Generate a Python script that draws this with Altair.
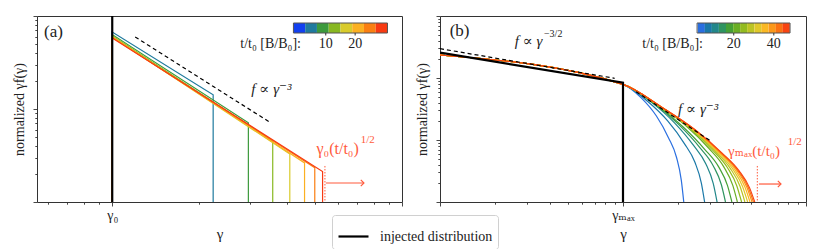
import math
import altair as alt
import pandas as pd

FONT = "Liberation Serif, DejaVu Serif, serif"
INK = "#333333"
RED = "#ff5a3c"

# ---------------- panel (a) ----------------
a_t = [1, 5, 9, 13, 17, 21, 25, 29]
a_colors = ["#1240f0", "#1f7a9e", "#3c9a3c", "#88b822", "#d9cb2c", "#fbb022", "#fa7f12", "#f83a12"]
a_start = [6.9, 6.73, 6.32, 6.1, 6.0, 5.95, 5.87, 5.8]
a_cut = [1.0, 2.23, 2.95, 3.58, 4.10, 4.61, 5.0, 5.32]
a_end = [6.9, 1.42, 0.71, 0.453, 0.328, 0.263, 0.234, 0.213]
A_FLOOR = 0.1
a_inj_x = [1.0, 1.0]
a_inj_y = [0.1, 10.0]
a_dash_x = [1.20, 3.49]
a_dash_y = [5.95, 0.724]

# ---------------- panel (b) ----------------
b_t = [3.8, 7.3, 10.8, 14.4, 17.9, 21.5, 25.0, 28.5, 32.1, 35.6, 39.2, 42.7, 46.2]
b_colors = ["#2a6fe0", "#1a78a8", "#22878a", "#2f9460", "#45a034", "#6aae24", "#93bb20", "#bcc424",
            "#e0c82a", "#fab824", "#fb981a", "#fa7212", "#f84412"]
b_left_x = [0.1, 1.0]
b_left_y = [0.235, 0.079]
# tails beyond gamma_max as (log10 x, log10 y)
b_tail_lx = [
    [0.0996, 0.1826, 0.249, 0.2922, 0.3187, 0.332],
    [0.1338, 0.2453, 0.3345, 0.3925, 0.4282, 0.446],
    [0.1542, 0.2827, 0.3855, 0.4523, 0.4934, 0.514],
    [0.168, 0.308, 0.42, 0.4928, 0.5376, 0.56],
    [0.1785, 0.3273, 0.4463, 0.5236, 0.5712, 0.595],
    [0.1875, 0.3438, 0.4688, 0.55, 0.60, 0.625],
    [0.1944, 0.3564, 0.486, 0.5702, 0.6221, 0.648],
    [0.1998, 0.3663, 0.4995, 0.5861, 0.6394, 0.666],
    [0.2043, 0.3746, 0.5108, 0.5993, 0.6538, 0.681],
    [0.2082, 0.3817, 0.5205, 0.6107, 0.6662, 0.694],
    [0.2115, 0.3878, 0.5288, 0.6204, 0.6768, 0.705],
    [0.2139, 0.3922, 0.5348, 0.6274, 0.6845, 0.713],
    [0.216, 0.396, 0.54, 0.6336, 0.6912, 0.72],
]
b_tail_ly = [
    [-1.320, -1.613, -1.966, -2.278, -2.651, -3.0],
    [-1.376, -1.697, -2.054, -2.356, -2.694, -3.0],
    [-1.389, -1.727, -2.087, -2.383, -2.705, -3.0],
    [-1.411, -1.761, -2.123, -2.414, -2.722, -3.0],
    [-1.428, -1.787, -2.150, -2.438, -2.735, -3.0],
    [-1.433, -1.769, -2.133, -2.429, -2.732, -3.0],
    [-1.444, -1.786, -2.151, -2.444, -2.741, -3.0],
    [-1.453, -1.799, -2.165, -2.457, -2.747, -3.0],
    [-1.460, -1.810, -2.177, -2.467, -2.753, -3.0],
    [-1.466, -1.820, -2.187, -2.476, -2.758, -3.0],
    [-1.472, -1.828, -2.195, -2.483, -2.762, -3.0],
    [-1.475, -1.834, -2.201, -2.489, -2.765, -3.0],
    [-1.479, -1.839, -2.207, -2.494, -2.768, -3.0],
]
b_inj_x = [0.1, 1.0, 1.0]
b_inj_y = [0.256, 0.084, 0.001]
b_dash1_x = [0.1, 0.90]
b_dash1_y = [0.297, 0.0989]
b_dash2_x = [1.18, 3.01]
b_dash2_y = [0.060, 0.00964]

LEG = "injected distribution"

MAJOR = "abs(log(datum.value) / LN10 - round(log(datum.value) / LN10)) < 0.001"
TICK_SIZE = {"condition": {"test": MAJOR, "value": 4}, "value": 2.2}

common_x = dict(grid=False, domain=False, tickSize=TICK_SIZE, tickColor=INK, tickWidth=0.9,
                labelFontSize=14, labelPadding=2, titleFontSize=15, titlePadding=4,
                titleFontWeight="normal")
common_y = dict(labels=False, title="normalized γf(γ)", grid=False, domain=False, tickSize=TICK_SIZE,
                tickColor=INK, tickWidth=0.9, titleFontSize=14, titleFontWeight="normal",
                titlePadding=6)


class Panel:
    def __init__(self, xs, ys, xax, yax):
        self.xs, self.ys, self.xax, self.yax = xs, ys, xax, yax

    def X(self, f="x:Q"):
        return alt.X(f, scale=self.xs, axis=self.xax)

    def Y(self, f="y:Q"):
        return alt.Y(f, scale=self.ys, axis=self.yax)

    def txt(self, x, y, t, **kw):
        return alt.Chart(pd.DataFrame(dict(x=[x], y=[y], t=[t]))).mark_text(font=FONT, **kw).encode(
            x=self.X(), y=self.Y(), text="t:N")

    def seg(self, xs, ys, **kw):
        return alt.Chart(pd.DataFrame(dict(x=xs, y=ys, o=list(range(len(xs)))))).mark_line(**kw).encode(
            x=self.X(), y=self.Y(), order="o:Q")

    def arrow(self, x0, x1, y):
        return [
            self.seg([x0, x1], [y, y], color=RED, strokeWidth=1.2),
            alt.Chart(pd.DataFrame(dict(x=[x1], y=[y]))).mark_point(
                shape="M -1 -1 L 0 0 L -1 1", filled=False, size=40, color=RED, strokeWidth=1.2,
                opacity=1).encode(x=self.X(), y=self.Y()),
        ]

    def colorbar(self, ts, colors, width_t, dom, xlo, xhi, ticks, label_x):
        lo, hi = math.log10(xlo), math.log10(xhi)

        def pos(t):
            return 10 ** (lo + (t - dom[0]) / (dom[1] - dom[0]) * (hi - lo))

        cb = pd.DataFrame(dict(x=[pos(t - width_t / 2) for t in ts],
                               x2=[pos(t + width_t / 2) for t in ts], color=colors))
        bars = alt.Chart(cb).mark_rect().encode(
            x=self.X(), x2="x2:Q", y=alt.value(7), y2=alt.value(17),
            color=alt.Color("color:N", scale=None, legend=None))
        frame = alt.Chart(pd.DataFrame(dict(x=[pos(dom[0])], x2=[pos(dom[1])]))).mark_rect(
            fillOpacity=0, stroke="#555", strokeWidth=1).encode(
            x=self.X(), x2="x2:Q", y=alt.value(7), y2=alt.value(17))
        tk = pd.DataFrame(dict(x=[pos(v) for v in ticks], s=[str(v) for v in ticks]))
        tmarks = alt.Chart(tk).mark_rule(color="#333").encode(
            x=self.X(), y=alt.value(17), y2=alt.value(19.5))
        tlabs = alt.Chart(tk).mark_text(font=FONT, fontSize=14, color="#222", baseline="middle").encode(
            x=self.X(), y=alt.value(28), text="s:N")
        lab = alt.Chart(pd.DataFrame(dict(s=["t/t₀ [B/B₀]:"]))).mark_text(
            font=FONT, fontSize=14, color="#222", align="right", baseline="middle").encode(
            x=alt.value(label_x), y=alt.value(28), text="s:N")
        return [bars, frame, tmarks, tlabs, lab]


# ---------- panel (a) ----------
rows = []
for i, (c, s, g, e) in enumerate(zip(a_colors, a_start, a_cut, a_end)):
    if g <= 1.0:
        pts = [(1.0, A_FLOOR), (1.0, s)]
    else:
        pts = [(1.0, A_FLOOR), (1.0, s), (g, e), (g, A_FLOOR)]
    for k, (x, y) in enumerate(pts):
        rows.append(dict(series=i, order=k, x=x, y=y, color=c))
df_a = pd.DataFrame(rows)

xa_vals = [0.6, 0.7, 0.8, 0.9, 1, 2, 3, 4, 5, 6, 7, 8, 9, 10]
ya_vals = [0.1, 0.2, 0.3, 0.4, 0.5, 0.6, 0.7, 0.8, 0.9, 1, 2, 3, 4, 5, 6, 7, 8, 9, 10]
PA = Panel(
    alt.Scale(type="log", domain=[0.55, 10], nice=False, clamp=True),
    alt.Scale(type="log", domain=[0.1, 10], nice=False, clamp=True),
    alt.Axis(values=xa_vals, labelExpr="datum.value == 1 ? 'γ₀' : ''", title="γ", **common_x),
    alt.Axis(values=ya_vals, **common_y),
)

lines_a = alt.Chart(df_a).mark_line(strokeWidth=1.2, clip=True).encode(
    x=PA.X(), y=PA.Y(),
    color=alt.Color("color:N", scale=None, legend=None),
    detail="series:N", order="order:Q",
)
inj_a = alt.Chart(pd.DataFrame(dict(x=a_inj_x, y=a_inj_y, lab=[LEG] * 2))).mark_line(
    strokeWidth=2.2, clip=True).encode(
    x=PA.X(), y=PA.Y(),
    stroke=alt.Stroke("lab:N", scale=alt.Scale(domain=[LEG], range=["black"]),
                      legend=alt.Legend(title=None, orient="none", legendX=295, legendY=199,
                                        symbolType="stroke", symbolSize=900, symbolStrokeWidth=2.2,
                                        labelFont=FONT, labelFontSize=14, labelColor="#222",
                                        fillColor="white", strokeColor="#d0d0d0", cornerRadius=3,
                                        padding=5, labelOffset=10)),
)
layers_a = [
    lines_a, inj_a,
    PA.seg(a_dash_x, a_dash_y, color="black", strokeWidth=1.2, strokeDash=[4, 3]),
    PA.txt(0.582, 6.73, "(a)", align="left", fontSize=17, color="#222"),
    PA.txt(3.02, 1.64, "f ∝ γ⁻³", align="left", fontSize=15, color="#222", fontStyle="italic"),
    PA.txt(5.07, 0.371, "γ₀(t/t₀)", align="left", fontSize=16, color=RED),
    PA.txt(7.2, 0.46, "1/2", align="left", fontSize=11, color=RED),
    PA.seg([5.42, 5.42], [0.244, 0.1], color=RED, strokeWidth=1, strokeDash=[1.5, 1.5]),
] + PA.arrow(5.46, 7.39, 0.16) + PA.colorbar(a_t, a_colors, 4.0, [-1, 31], 4.22, 8.91, [10, 20], 264)

panel_a = alt.layer(*layers_a).properties(width=365, height=186)

# ---------- panel (b) ----------
rows = []
for i, c in enumerate(b_colors):
    pts = list(zip(b_left_x, b_left_y)) + [(10 ** lx, 10 ** ly) for lx, ly in zip(b_tail_lx[i], b_tail_ly[i])]
    for k, (x, y) in enumerate(pts):
        rows.append(dict(series=i, order=k, x=x, y=y, color=c))
df_b = pd.DataFrame(rows)

xb_vals = [0.1, 0.2, 0.3, 0.4, 0.5, 0.6, 0.7, 0.8, 0.9, 1, 2, 3, 4, 5, 6, 7, 8, 9, 10]
yb_vals = [0.001, 0.002, 0.003, 0.004, 0.005, 0.006, 0.007, 0.008, 0.009,
           0.01, 0.02, 0.03, 0.04, 0.05, 0.06, 0.07, 0.08, 0.09,
           0.1, 0.2, 0.3, 0.4, 0.5, 0.6, 0.7, 0.8, 0.9, 1]
PB = Panel(
    alt.Scale(type="log", domain=[0.1, 10], nice=False, clamp=True),
    alt.Scale(type="log", domain=[0.001, 1], nice=False, clamp=True),
    alt.Axis(values=xb_vals, labelExpr="datum.value == 1 ? 'γₘₐₓ' : ''", title="γ", **common_x),
    alt.Axis(values=yb_vals, **common_y),
)

lines_b = alt.Chart(df_b).mark_line(strokeWidth=1.2, clip=True, interpolate="monotone").encode(
    x=PB.X(), y=PB.Y(),
    color=alt.Color("color:N", scale=None, legend=None),
    detail="series:N", order="order:Q",
)
layers_b = [
    lines_b,
    PB.seg(b_inj_x, b_inj_y, color="black", strokeWidth=2.2, clip=True),
    PB.seg(b_dash1_x, b_dash1_y, color="black", strokeWidth=1.2, strokeDash=[4, 3]),
    PB.seg(b_dash2_x, b_dash2_y, color="black", strokeWidth=1.2, strokeDash=[4, 3]),
    PB.txt(0.113, 0.573, "(b)", align="left", fontSize=17, color="#222"),
    PB.txt(0.256, 0.395, "f ∝ γ", align="left", fontSize=15, color="#222", fontStyle="italic"),
    PB.txt(0.37, 0.513, "−3/2", align="left", fontSize=10, color="#222"),
    PB.txt(2.0, 0.0316, "f ∝ γ⁻³", align="left", fontSize=15, color="#222", fontStyle="italic"),
    PB.txt(3.75, 0.00665, "γₘₐₓ(t/t₀)", align="left", fontSize=15, color=RED),
    PB.txt(7.95, 0.0092, "1/2", align="left", fontSize=11, color=RED),
    PB.seg([5.42, 5.42], [0.00381, 0.001], color=RED, strokeWidth=1, strokeDash=[1.5, 1.5]),
] + PB.arrow(5.53, 7.3, 0.00195) + PB.colorbar(b_t, b_colors, 3.57, [1.7, 48.1], 2.54, 8.18, [20, 40], 263)

panel_b = alt.layer(*layers_b).properties(width=366, height=186)

chart = alt.hconcat(panel_a, panel_b, spacing=12).properties(
    padding={"left": 4, "top": 7, "right": 0, "bottom": 0}
).configure_view(stroke=INK, strokeWidth=1).configure_axis(
    labelFont=FONT, titleFont=FONT, labelColor="#222", titleColor="#222")

chart.save("out.html", embed_options={"renderer": "svg", "actions": False})
